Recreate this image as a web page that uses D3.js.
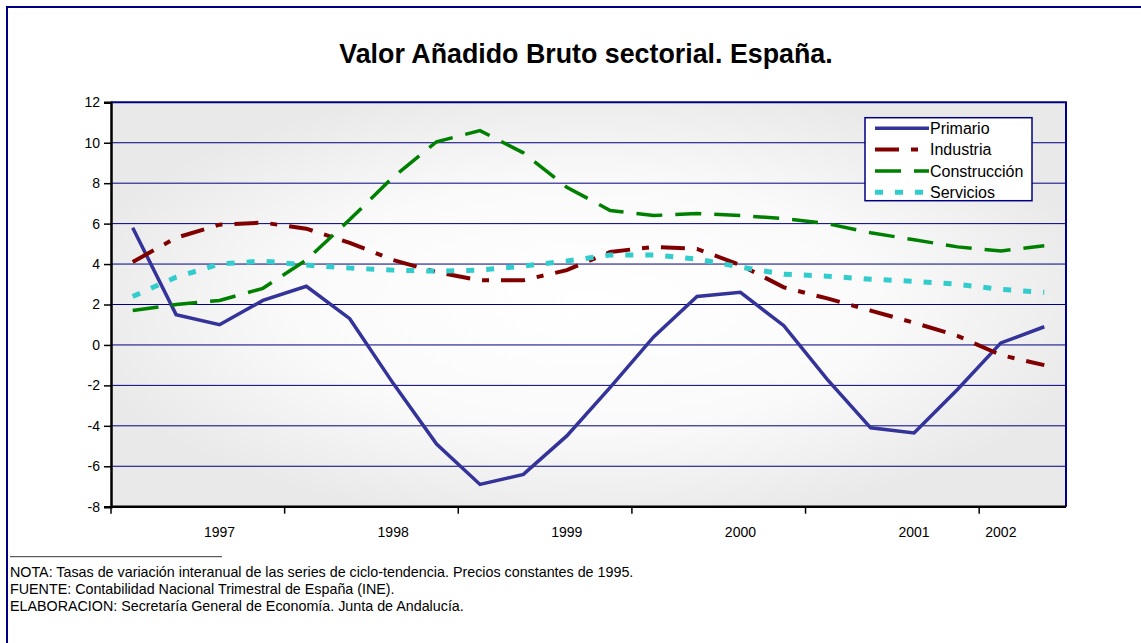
<!DOCTYPE html>
<html>
<head>
<meta charset="utf-8">
<script src="https://cdn.jsdelivr.net/npm/d3@7"></script>
<style>
  body { margin: 0; background: #fff; }
  svg { display: block; font-family: Arial, "Liberation Sans", sans-serif; }
</style>
</head>
<body>
<div id="chart"></div>
<script>

// quarterly categories (III-1996 .. IV-2001) and the year labels the chart shows under them
var quarters = ["96-III", "96-IV", "97-I", "97-II", "97-III", "97-IV", "98-I", "98-II", "98-III", "98-IV",
  "99-I", "99-II", "99-III", "99-IV", "00-I", "00-II", "00-III", "00-IV", "01-I", "01-II", "01-III", "01-IV"];
var yearLabels = ["", "", "1997", "", "", "", "1998", "", "", "", "1999", "", "", "", "2000", "", "", "",
  "2001", "", "2002", ""];

// series values (% interannual change)
var primario = [5.8, 1.5, 1.0, 2.2, 2.9, 1.3, -1.9, -4.9, -6.9, -6.4, -4.5, -2.1, 0.4, 2.4, 2.6, 0.95,
  -1.7, -4.1, -4.35, -2.2, 0.1, 0.9];
var industria = [4.1, 5.3, 5.95, 6.05, 5.75, 5.05, 4.2, 3.6, 3.2, 3.2, 3.7, 4.6, 4.85, 4.75, 3.95, 2.85,
  2.3, 1.7, 1.1, 0.45, -0.5, -1.0];
var construccion = [1.7, 2.0, 2.2, 2.8, 4.2, 6.2, 8.3, 10.05, 10.6, 9.5, 7.8, 6.65, 6.4, 6.5, 6.4, 6.25,
  6.0, 5.55, 5.2, 4.85, 4.65, 4.9];
var servicios = [2.4, 3.35, 4.0, 4.15, 3.95, 3.8, 3.7, 3.65, 3.7, 3.9, 4.15, 4.45, 4.45, 4.25, 3.85, 3.5,
  3.4, 3.25, 3.15, 3.0, 2.75, 2.6];

var seriesNames = ["Primario", "Industria", "Construcción", "Servicios"];
var yTicks = [-8, -6, -4, -2, 0, 2, 4, 6, 8, 10, 12];

var notes = [
  "NOTA: Tasas de variación interanual de las series de ciclo-tendencia. Precios constantes de 1995.",
  "FUENTE: Contabilidad Nacional Trimestral de España (INE).",
  "ELABORACION: Secretaría General de Economía. Junta de Andalucía."
];

var svgWidth = 1141;
var svgHeight = 643;
var navy = "#000080";

var margin = { top: 102.3, right: 75, bottom: 136.3, left: 111 };
var width = svgWidth - margin.left - margin.right;
var height = svgHeight - margin.top - margin.bottom;

var svg = d3.select("#chart")
  .append("svg")
  .attr("width", svgWidth)
  .attr("height", svgHeight);

// gradient for the plot area: grey edges, white centre
var defs = svg.append("defs");
var grad = defs.append("radialGradient")
  .attr("id", "plotBg")
  .attr("cx", "50%").attr("cy", "50%").attr("r", "55%");
grad.append("stop").attr("offset", "0%").attr("stop-color", "#ffffff");
grad.append("stop").attr("offset", "55%").attr("stop-color", "#fafafa");
grad.append("stop").attr("offset", "100%").attr("stop-color", "#e9e9e9");

// outer frame (only top and left visible)
svg.append("path")
  .attr("d", "M7," + svgHeight + " V7 H" + svgWidth)
  .attr("fill", "none")
  .attr("stroke", navy)
  .attr("stroke-width", 2);

// title
svg.append("text")
  .attr("x", 586)
  .attr("y", 63)
  .attr("text-anchor", "middle")
  .attr("font-size", "26.8px")
  .attr("font-weight", "bold")
  .text("Valor Añadido Bruto sectorial. España.");

var chartGroup = svg.append("g")
  .attr("transform", `translate(${margin.left}, ${margin.top})`);

// scales
var xScale = d3.scaleBand()
  .domain(quarters)
  .range([0, width])
  .padding(0);

var yScale = d3.scaleLinear()
  .domain([-8, 12])
  .range([height, 0]);

var xc = function(i) { return xScale(quarters[i]) + xScale.bandwidth() / 2; };

chartGroup.append("rect")
  .attr("width", width)
  .attr("height", height)
  .attr("fill", "url(#plotBg)");

// gridlines
chartGroup.selectAll(".grid")
  .data(yTicks.filter(d => d > -8 && d < 12))
  .enter()
  .append("line")
  .attr("class", "grid")
  .attr("x1", 0)
  .attr("x2", width)
  .attr("y1", d => yScale(d))
  .attr("y2", d => yScale(d))
  .attr("stroke", navy)
  .attr("stroke-width", 1);

// top and right border of the plot area
chartGroup.append("path")
  .attr("d", `M0,0 H${width} V${height}`)
  .attr("fill", "none")
  .attr("stroke", navy)
  .attr("stroke-width", 2);

// y axis
var leftAxis = d3.axisLeft(yScale)
  .tickValues(yTicks)
  .tickSize(7)
  .tickPadding(4)
  .tickFormat(d => String(d));

var yAxis = chartGroup.append("g").call(leftAxis);
yAxis.select(".domain").attr("stroke", "#000").attr("stroke-width", 2.5);
yAxis.selectAll(".tick line").attr("stroke", "#000").attr("stroke-width", 1.5);
yAxis.selectAll(".tick text")
  .attr("font-size", "14px")
  .attr("font-family", "Arial, 'Liberation Sans', sans-serif")
  .attr("fill", "#000");

// x axis: ticks between every 4 quarters, labels only on the year rows
var boundaries = quarters.filter((q, i) => i % 4 === 0);
var xAxis = chartGroup.append("g")
  .attr("transform", `translate(0, ${height})`);

xAxis.append("line")
  .attr("x1", 0).attr("x2", width)
  .attr("stroke", "#000")
  .attr("stroke-width", 2.5);

xAxis.selectAll(".xtick")
  .data(boundaries)
  .enter()
  .append("line")
  .attr("class", "xtick")
  .attr("x1", d => xScale(d))
  .attr("x2", d => xScale(d))
  .attr("y1", 0)
  .attr("y2", 7)
  .attr("stroke", "#000")
  .attr("stroke-width", 1.5);

xAxis.selectAll(".xlabel")
  .data(quarters.filter((q, i) => yearLabels[i] !== ""))
  .enter()
  .append("text")
  .attr("class", "xlabel")
  .attr("x", d => xScale(d) + xScale.bandwidth() / 2)
  .attr("y", 30)
  .attr("text-anchor", "middle")
  .attr("font-size", "14px")
  .text(d => yearLabels[quarters.indexOf(d)]);

// series
var seriesData = [primario, industria, construccion, servicios];
var seriesStyle = [
  { color: "#333399", width: 3.5, dash: null },
  { color: "#800000", width: 4, dash: "24,12,7,12" },
  { color: "#008000", width: 3.5, dash: "26,13" },
  { color: "#33cccc", width: 5, dash: "8,12" }
];

var line = d3.line()
  .x((d, i) => xc(i))
  .y(d => yScale(d));

chartGroup.selectAll(".series")
  .data(seriesData)
  .enter()
  .append("path")
  .attr("class", "series")
  .attr("d", d => line(d))
  .attr("fill", "none")
  .attr("stroke", (d, i) => seriesStyle[i].color)
  .attr("stroke-width", (d, i) => seriesStyle[i].width)
  .attr("stroke-dasharray", (d, i) => seriesStyle[i].dash);

// legend
var legend = svg.append("g")
  .attr("transform", "translate(865, 117.7)");

legend.append("rect")
  .attr("width", 167)
  .attr("height", 83)
  .attr("fill", "#fff")
  .attr("stroke", navy)
  .attr("stroke-width", 1.5);

var items = legend.selectAll(".item")
  .data(seriesNames)
  .enter()
  .append("g")
  .attr("class", "item")
  .attr("transform", (d, i) => `translate(0, ${10.6 + i * 21.3})`);

items.append("line")
  .attr("x1", 10).attr("x2", 64)
  .attr("stroke", (d, i) => seriesStyle[i].color)
  .attr("stroke-width", (d, i) => seriesStyle[i].width)
  .attr("stroke-dasharray", (d, i) => seriesStyle[i].dash);

items.append("text")
  .attr("x", 65)
  .attr("y", 5.8)
  .attr("font-size", "16px")
  .text(d => d);

// footnotes
svg.append("line")
  .attr("x1", 10).attr("x2", 222)
  .attr("y1", 556.7).attr("y2", 556.7)
  .attr("stroke", "#000")
  .attr("stroke-width", 0.8);

svg.selectAll(".note")
  .data(notes)
  .enter()
  .append("text")
  .attr("class", "note")
  .attr("x", 10)
  .attr("y", (d, i) => 577 + i * 17)
  .attr("font-size", "14.3px")
  .text(d => d);

</script>
</body>
</html>
